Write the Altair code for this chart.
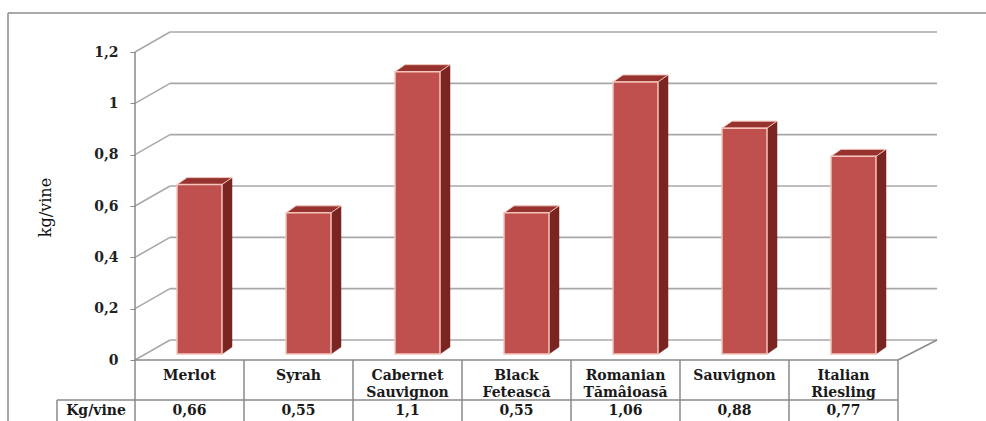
import altair as alt
import pandas as pd

# ---------------- data ----------------
categories = ["Merlot", "Syrah", "Cabernet\nSauvignon", "Black\nFetească",
              "Romanian\nTămâioasă", "Sauvignon", "Italian\nRiesling"]
values = [0.66, 0.55, 1.1, 0.55, 1.06, 0.88, 0.77]
value_labels = ["0,66", "0,55", "1,1", "0,55", "1,06", "0,88", "0,77"]
y_ticks = [0, 0.2, 0.4, 0.6, 0.8, 1.0, 1.2]
row_label = "Kg/vine"
axis_title = "kg/vine"

# ---------------- layout ----------------
N = len(categories)
W, H = 763, 308
PAD = {"left": 135, "top": 52, "right": 88, "bottom": 61}
YMAX = 1.2
PX = W / N          # pixels per category
PY = H / YMAX       # pixels per unit value


def xu(px):
    return px / PX


def yu(px):
    return px / PY


BACK_DX_L, BACK_DX_R, BACK_DY = 35, 39, 20   # 3D depth of the walls
BAR_OX, BAR_OY = 10, 6                        # bar front face offset
BAR_W = 45
BAR_DX, BAR_DY = 10, 7                        # bar depth
BOTTOM = -yu(80)

FRONT = "#c0504d"
SIDE = "#7b2523"
TOP = "#96332f"
EDGE = "#f3c5bc"
GRID = "#a8a8a8"
TABLE = "#8a8a8a"
FONT = "DejaVu Serif"
FS = 14

xscale = alt.Scale(domain=[0, N], nice=False, zero=False)
yscale = alt.Scale(domain=[0, YMAX], nice=False, zero=False)
yaxis = alt.Axis(
    values=y_ticks,
    labelExpr="replace(format(datum.value, '.1~f'), '.', ',')",
    domain=False, grid=False,
    tickSize=5, tickColor=TABLE, tickWidth=1,
    labelFont=FONT, labelFontWeight="bold", labelFontSize=FS, labelColor="#222222",
    labelPadding=12,
    title=axis_title, titleFont=FONT, titleFontWeight="normal", titleFontSize=16,
    titleColor="#111111", titleAngle=270, titleX=-90, titleY=155,
    titleAlign="center", titleBaseline="middle",
)


def X(f):
    return alt.X(f, type="quantitative", scale=xscale, axis=None)


def Y(f):
    return alt.Y(f, type="quantitative", scale=yscale, axis=yaxis)


# ---------------- tables ----------------
grid_df = pd.DataFrame({"v": y_ticks})
grid_df["x0"] = 0.0
grid_df["x1"] = xu(BACK_DX_L)
grid_df["x2"] = N + xu(BACK_DX_R)
grid_df["yb"] = grid_df["v"] + yu(BACK_DY)

bars = pd.DataFrame({"name": categories, "v": values, "i": range(N)})
bars["xl"] = bars["i"] + 0.5 + xu(BAR_OX) - xu(BAR_W) / 2
bars["xr"] = bars["xl"] + xu(BAR_W)
bars["yb"] = yu(BAR_OY)
bars["yt"] = bars["v"] + yu(BAR_OY)

side_rows, top_rows = [], []
d, e = xu(BAR_DX), yu(BAR_DY)
for r in bars.to_dict("records"):
    side_rows += [
        {"name": r["name"], "x": r["xr"], "lo": r["yb"], "hi": r["yt"]},
        {"name": r["name"], "x": r["xr"] + d, "lo": r["yb"] + e, "hi": r["yt"] + e},
    ]
    top_rows += [
        {"name": r["name"], "x": r["xl"], "lo": r["yt"], "hi": r["yt"]},
        {"name": r["name"], "x": r["xl"] + d, "lo": r["yt"], "hi": r["yt"] + e},
        {"name": r["name"], "x": r["xr"], "lo": r["yt"], "hi": r["yt"] + e},
        {"name": r["name"], "x": r["xr"] + d, "lo": r["yt"] + e, "hi": r["yt"] + e},
    ]
side_df = pd.DataFrame(side_rows)
top_df = pd.DataFrame(top_rows)

row_sep = -yu(40)
cell_left = -xu(78)
vlines = pd.DataFrame({"x": list(range(N + 1))})
vlines["y0"] = [YMAX] + [0.0] * N
vlines["y1"] = BOTTOM

hlines = pd.DataFrame({
    "x0": [0.0, cell_left, N],
    "x1": [float(N), float(N), N + xu(BACK_DX_R)],
    "y0": [0.0, row_sep, 0.0],
    "y1": [0.0, row_sep, yu(BACK_DY)],
})
cell_df = pd.DataFrame({"x": [cell_left], "y0": [row_sep], "y1": [BOTTOM]})

labels_df = pd.DataFrame({"x": [i + 0.5 for i in range(N)], "name": categories,
                          "val": value_labels})
labels_df["y"] = -yu(20)
labels_df["yv"] = -yu(55)
row_df = pd.DataFrame({"x": [cell_left / 2], "y": [-yu(55)], "t": [row_label]})

# ---------------- layers ----------------
border = alt.Chart(pd.DataFrame({"k": [0]})).mark_rule(color="#8c8c8c", strokeWidth=1.5).encode(
    x=alt.value(-127), x2=alt.value(986 - PAD["left"]),
    y=alt.value(-39), y2=alt.value(-39)
)
border_l = alt.Chart(pd.DataFrame({"k": [0]})).mark_rule(color="#8c8c8c", strokeWidth=1.5).encode(
    x=alt.value(-127), x2=alt.value(-127),
    y=alt.value(-39), y2=alt.value(421)
)

oblique = alt.Chart(grid_df).mark_rule(color=GRID, strokeWidth=1.6).encode(
    x=X("x0"), x2="x1", y=Y("v"), y2="yb")
back = alt.Chart(grid_df).mark_rule(color=GRID, strokeWidth=1.6).encode(
    x=X("x1"), x2="x2", y=Y("yb"), y2="yb")

table_v = alt.Chart(vlines).mark_rule(color=TABLE, strokeWidth=1.5).encode(
    x=X("x"), y=Y("y0"), y2="y1")
table_h = alt.Chart(hlines).mark_rule(color=TABLE, strokeWidth=1.5).encode(
    x=X("x0"), x2="x1", y=Y("y0"), y2="y1")
table_c = alt.Chart(cell_df).mark_rule(color=TABLE, strokeWidth=1.5).encode(
    x=X("x"), y=Y("y0"), y2="y1")

side = alt.Chart(side_df).mark_area(color=SIDE, stroke=SIDE, strokeWidth=0.5).encode(
    x=X("x"), y=Y("lo"), y2="hi", detail="name:N")
top = alt.Chart(top_df).mark_area(color=TOP, stroke=EDGE, strokeWidth=1).encode(
    x=X("x"), y=Y("lo"), y2="hi", detail="name:N")
front = alt.Chart(bars).mark_rect(color=FRONT, stroke=EDGE, strokeWidth=1.5).encode(
    x=X("xl"), x2="xr", y=Y("yb"), y2="yt")

cat_text = alt.Chart(labels_df).mark_text(
    font=FONT, fontWeight="bold", fontSize=FS, color="#1a1a1a",
    align="center", baseline="alphabetic", lineBreak="\n", lineHeight=17
).encode(x=X("x"), y=Y("y"), text="name:N")
val_text = alt.Chart(labels_df).mark_text(
    font=FONT, fontWeight="bold", fontSize=FS, color="#1a1a1a",
    align="center", baseline="alphabetic"
).encode(x=X("x"), y=Y("yv"), text="val:N")
row_text = alt.Chart(row_df).mark_text(
    font=FONT, fontWeight="bold", fontSize=FS, color="#1a1a1a",
    align="center", baseline="alphabetic"
).encode(x=X("x"), y=Y("y"), text="t:N")

chart = alt.layer(
    border, border_l, oblique, back, table_h, table_v, table_c,
    side, top, front, cat_text, val_text, row_text
).properties(
    width=W, height=H,
    autosize=alt.AutoSizeParams(type="none"),
    padding=PAD,
    background="white",
).configure_view(stroke=None)

chart.save("out.html", embed_options={"renderer": "svg", "actions": False})
